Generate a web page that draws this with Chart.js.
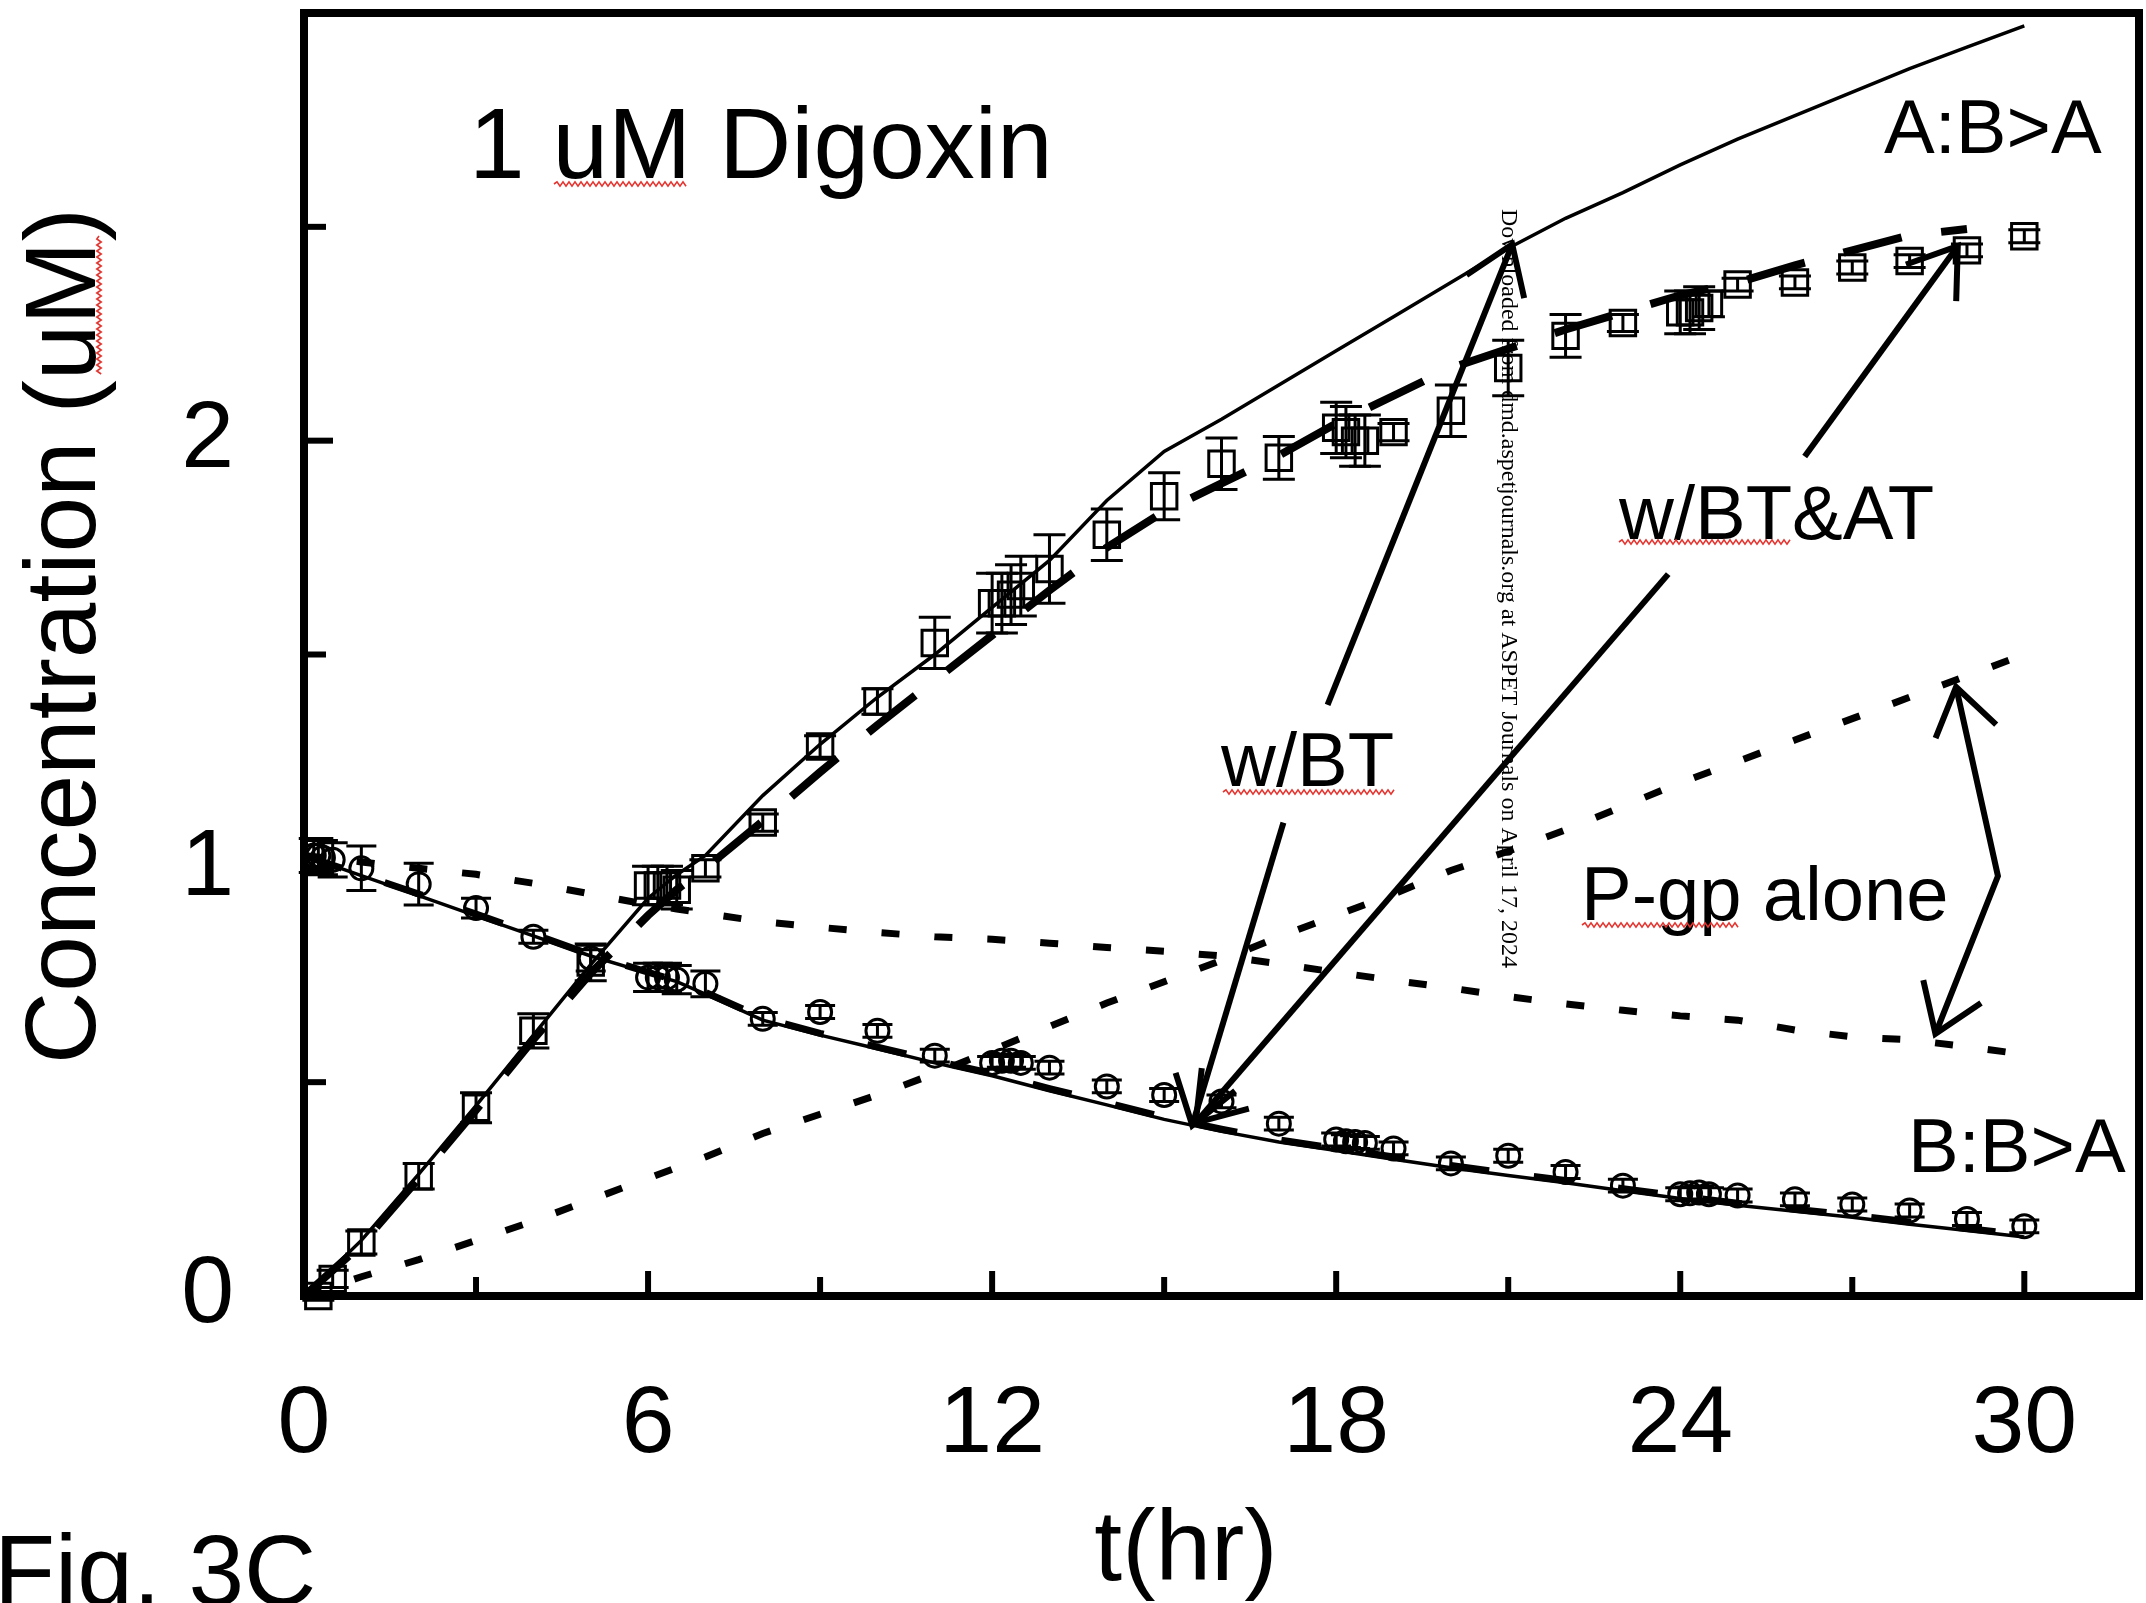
<!DOCTYPE html>
<html><head><meta charset="utf-8">
<script src="https://cdn.jsdelivr.net/npm/chart.js@4.4.1/dist/chart.umd.min.js"></script>
<style>html,body{margin:0;padding:0;background:#fff;overflow:hidden}#wrap{width:2146px;height:1603px;position:relative;background:#fff}</style>
</head><body><div id="wrap"><canvas id="c" width="2146" height="1603"></canvas></div>
<script>
// ---- data ----
const squareTimes = [0.25,0.5,1,2,3,4,5,6,6.17,6.33,6.5,7,8,9,10,11,12,12.17,12.33,12.5,13,14,15,16,17,18,18.17,18.33,18.5,19,20,21,22,23,24,24.17,24.33,24.5,25,26,27,28,29,30];
const squareConc  = [0.0,0.04,0.125,0.28,0.44,0.62,0.78,0.96,0.96,0.96,0.95,1.0,1.107,1.285,1.39,1.527,1.62,1.62,1.64,1.66,1.70,1.78,1.87,1.946,1.96,2.03,2.02,2.0,2.0,2.02,2.07,2.17,2.245,2.275,2.30,2.30,2.31,2.32,2.365,2.37,2.405,2.42,2.445,2.478];
const squareErr   = [0.01,0.02,0.027,0.03,0.035,0.04,0.043,0.045,0.045,0.045,0.045,0.02,0.02,0.025,0.03,0.06,0.07,0.07,0.07,0.07,0.08,0.06,0.055,0.06,0.05,0.06,0.06,0.06,0.06,0.02,0.06,0.065,0.05,0.02,0.05,0.05,0.05,0.03,0.015,0.015,0.015,0.015,0.015,0.015];

const circleTimes = [0.17,0.25,0.33,0.5,1,2,3,4,5,6,6.17,6.33,6.5,7,8,9,10,11,12,12.17,12.33,12.5,13,14,15,16,17,18,18.17,18.33,18.5,19,20,21,22,23,24,24.17,24.33,24.5,25,26,27,28,29,30];
const circleConc  = [1.03,1.03,1.025,1.02,1.0,0.963,0.907,0.84,0.79,0.745,0.745,0.745,0.74,0.73,0.648,0.664,0.62,0.562,0.545,0.55,0.55,0.545,0.534,0.49,0.47,0.455,0.403,0.366,0.362,0.36,0.358,0.345,0.31,0.328,0.29,0.258,0.238,0.24,0.242,0.238,0.235,0.226,0.214,0.2,0.18,0.163];
const circleErr   = [0.04,0.04,0.04,0.04,0.052,0.049,0.023,0.015,0.03,0.033,0.033,0.033,0.033,0.03,0.015,0.015,0.015,0.015,0.015,0.015,0.015,0.015,0.015,0.015,0.015,0.015,0.015,0.015,0.015,0.015,0.015,0.015,0.015,0.015,0.015,0.015,0.015,0.015,0.015,0.015,0.015,0.015,0.015,0.015,0.015,0.015];

const modelTimes = [0,1,2,3,4,5,6,6.5,7,8,9,10,11,12,13,14,15,16,17,18,19,20,21,22,23,24,25,26,27,28,29,30];
const apicalWithBT    = [0,0.13,0.285,0.445,0.61,0.775,0.93,0.985,1.03,1.17,1.29,1.40,1.50,1.61,1.72,1.86,1.975,2.05,2.13,2.21,2.29,2.37,2.45,2.52,2.58,2.645,2.705,2.76,2.815,2.87,2.92,2.97];
const apicalWithBTAT  = [0,0.12,0.275,0.435,0.6,0.755,0.89,0.95,1.0,1.11,1.225,1.335,1.44,1.545,1.65,1.75,1.835,1.90,1.965,2.04,2.105,2.17,2.215,2.26,2.30,2.34,2.37,2.41,2.445,2.48,2.495,null];
const basalWithBT     = [1.03,0.983,0.936,0.889,0.842,0.795,0.755,0.735,0.706,0.645,0.61,0.578,0.545,0.515,0.48,0.447,0.413,0.385,0.36,0.34,0.32,0.30,0.282,0.265,0.246,0.228,0.212,0.198,0.184,0.168,0.153,0.138];
const basalWithBTAT   = [1.03,0.985,0.94,0.893,0.846,0.798,0.757,0.737,0.71,0.65,0.614,0.582,0.55,0.52,0.485,0.452,0.418,0.39,0.365,0.345,0.325,0.305,0.287,0.27,0.251,0.233,0.217,0.203,0.189,0.173,0.158,0.143];
const apicalPgpAlone  = [0,0.045,0.085,0.13,0.175,0.225,0.275,0.30,0.325,0.38,0.425,0.47,0.52,0.575,0.63,0.685,0.735,0.785,0.84,0.89,0.94,0.995,1.04,1.09,1.145,1.2,1.25,1.3,1.35,1.4,1.45,1.5];
const basalPgpAlone   = [1.03,1.015,1.0,0.986,0.965,0.94,0.915,0.905,0.895,0.875,0.862,0.85,0.84,0.834,0.825,0.815,0.806,0.795,0.777,0.757,0.738,0.72,0.70,0.683,0.668,0.655,0.645,0.622,0.606,0.599,0.583,0.565];

const yTickValues = [0,0.5,1,1.5,2,2.5,3];
const yTickLabels = [0,1,2];
const xTickValues = [0,3,6,9,12,15,18,21,24,27,30];
const xTickLabels = [0,6,12,18,24,30];

// ---- build ----
const pts = (xs, ys) => xs.map((t,i)=>({x:t, y:ys[i]}));
const FONT = '"Liberation Sans", Arial, sans-serif';

function lineDs(ys, width, dash){
  return {data: pts(modelTimes, ys), showLine:true, pointRadius:0, borderColor:'#000',
          borderWidth:width, borderDash:dash||[], tension:0, fill:false, spanGaps:false, borderCapStyle:'butt'};
}

function arrowHead(ctx, tipX, tipY, fromX, fromY, len, ang){
  const a = Math.atan2(fromY-tipY, fromX-tipX);
  ctx.beginPath();
  ctx.moveTo(tipX + len*Math.cos(a+ang), tipY + len*Math.sin(a+ang));
  ctx.lineTo(tipX, tipY);
  ctx.lineTo(tipX + len*Math.cos(a-ang), tipY + len*Math.sin(a-ang));
  ctx.stroke();
}
function squiggleH(ctx, x1, x2, y){
  ctx.beginPath(); let up=true; ctx.moveTo(x1,y);
  for(let x=x1+3;x<=x2;x+=3){ ctx.lineTo(x, y + (up?-2.2:2.2)); up=!up; }
  ctx.stroke();
}
function squiggleV(ctx, x, y1, y2){
  ctx.beginPath(); let up=true; ctx.moveTo(x,y1);
  for(let y=y1+3;y<=y2;y+=3){ ctx.lineTo(x + (up?-2.2:2.2), y); up=!up; }
  ctx.stroke();
}

const overlay = {
  id:'overlay',
  afterDatasetsDraw(chart){
    const {ctx, chartArea:ca, scales:{x, y}} = chart;
    const px = v => x.getPixelForValue(v), py = v => y.getPixelForValue(v);
    ctx.save();
    ctx.strokeStyle='#000'; ctx.fillStyle='#000'; ctx.lineCap='butt';
    // error bars
    ctx.lineWidth = 3;
    const bars = (ts, cs, es, cap) => {
      for(let i=0;i<ts.length;i++){
        const X=px(ts[i]), Y1=py(cs[i]-es[i]), Y2=py(cs[i]+es[i]);
        ctx.beginPath();
        ctx.moveTo(X,Y1); ctx.lineTo(X,Y2);
        ctx.moveTo(X-cap,Y1); ctx.lineTo(X+cap,Y1);
        ctx.moveTo(X-cap,Y2); ctx.lineTo(X+cap,Y2);
        ctx.stroke();
      }
    };
    bars(squareTimes, squareConc, squareErr, 16);
    bars(circleTimes, circleConc, circleErr, 15);

    // frame
    ctx.lineWidth = 8;
    ctx.strokeRect(ca.left, ca.top, ca.right-ca.left, ca.bottom-ca.top);
    // inward ticks
    ctx.lineWidth = 6;
    y.ticks.forEach(t=>{ const v=t.value; if(v<=0||v>=3) return;
      const L = Number.isInteger(v)?29:22, Y=py(v);
      ctx.beginPath(); ctx.moveTo(ca.left,Y); ctx.lineTo(ca.left+L,Y); ctx.stroke(); });
    x.ticks.forEach(t=>{ const v=t.value; if(v<=0||v>30) return;
      const L = (v%6===0)?25:19, X=px(v);
      ctx.beginPath(); ctx.moveTo(X,ca.bottom); ctx.lineTo(X,ca.bottom-L); ctx.stroke(); });

    // arrows
    ctx.lineWidth = 6;
    const arrow = (t0,c0,t1,c1) => {
      const X0=px(t0),Y0=py(c0),X1=px(t1),Y1=py(c1);
      ctx.beginPath(); ctx.moveTo(X0,Y0); ctx.lineTo(X1,Y1); ctx.stroke();
      arrowHead(ctx,X1,Y1,X0,Y0,55,0.6);
    };
    arrow(17.85,1.382, 21.07,2.459);
    arrow(17.08,1.107, 15.49,0.399);
    arrow(23.79,1.688, 15.55,0.405);
    arrow(26.17,1.963, 28.84,2.455);
    // P-gp double arrow (bent)
    {
      const A=[px(28.81),py(1.424)], M=[px(29.54),py(0.982)], B=[px(28.45),py(0.613)];
      ctx.beginPath(); ctx.moveTo(A[0],A[1]); ctx.lineTo(M[0],M[1]); ctx.lineTo(B[0],B[1]); ctx.stroke();
      arrowHead(ctx,A[0],A[1],M[0],M[1],55,0.6);
      arrowHead(ctx,B[0],B[1],M[0],M[1],55,0.6);
    }

    // texts
    ctx.textAlign='left'; ctx.textBaseline='alphabetic';
    ctx.font = '100px '+FONT;
    ctx.fillText('1 uM Digoxin', 469, 178);
    ctx.font = '76px '+FONT;
    ctx.fillText('A:B>A', 1884, 153);
    ctx.fillText('B:B>A', 1908, 1172);
    ctx.fillText('w/BT', 1221, 786);
    ctx.fillText('w/BT&AT', 1619, 539);
    ctx.fillText('P-gp alone', 1581, 920);

    // axis titles
    ctx.font = '100px '+FONT;
    ctx.textAlign='center';
    ctx.fillText('t(hr)', 1186, 1580);
    ctx.save(); ctx.translate(95, 636); ctx.rotate(-Math.PI/2);
    ctx.fillText('Concentration (uM)', 0, 0); ctx.restore();
    ctx.textAlign='left';
    ctx.fillText('Fig. 3C', -6, 1605);

    // spell-check squiggles
    ctx.strokeStyle='#e3342f'; ctx.lineWidth=1.6;
    squiggleH(ctx, 554, 688, 184);
    squiggleH(ctx, 1223, 1396, 792);
    squiggleH(ctx, 1619, 1792, 542);
    squiggleH(ctx, 1582, 1739, 925);
    squiggleV(ctx, 99, 236, 376);

    // watermark (vertical serif text)
    ctx.fillStyle='#000';
    const wm = 'Downloaded from dmd.aspetjournals.org at ASPET Journals on April 17, 2024';
    ctx.font = '24px "Liberation Serif", "Times New Roman", serif';
    const w = ctx.measureText(wm).width;
    const fs = 24*759/w;
    ctx.font = fs.toFixed(2)+'px "Liberation Serif", "Times New Roman", serif';
    ctx.save(); ctx.translate(1502, 209); ctx.rotate(Math.PI/2);
    ctx.textAlign='left'; ctx.textBaseline='alphabetic';
    ctx.fillText(wm, 0, 0); ctx.restore();

    ctx.restore();
  }
};

new Chart(document.getElementById('c'), {
  type:'scatter',
  data:{datasets:[
    {data: pts(squareTimes, squareConc), pointStyle:'rect', pointRadius:18, pointBorderWidth:3, borderWidth:3,
     borderColor:'#000', pointBorderColor:'#000', backgroundColor:'rgba(0,0,0,0)', pointBackgroundColor:'rgba(0,0,0,0)', showLine:false, clip:false},
    {data: pts(circleTimes, circleConc), pointStyle:'circle', pointRadius:11.5, pointBorderWidth:3, borderWidth:3,
     borderColor:'#000', pointBorderColor:'#000', backgroundColor:'rgba(0,0,0,0)', pointBackgroundColor:'rgba(0,0,0,0)', showLine:false, clip:false},
    lineDs(apicalWithBT, 3.5),
    lineDs(apicalWithBTAT, 8, [60,40]),
    lineDs(basalWithBT, 3.5),
    lineDs(basalWithBTAT, 7, [40,45]),
    lineDs(apicalPgpAlone, 7, [18,35]),
    lineDs(basalPgpAlone, 7, [18,35])
  ]},
  options:{
    responsive:false, animation:false, devicePixelRatio:1,
    layout:{autoPadding:false, padding:{left:0, top:13, right:7, bottom:0}},
    plugins:{legend:{display:false}, tooltip:{enabled:false}},
    scales:{
      x:{type:'linear', min:0, max:32,
         grid:{display:false, drawTicks:false}, border:{display:false},
         afterBuildTicks:s=>{ s.ticks = xTickValues.map(v=>({value:v})); },
         afterFit:s=>{ s.height = 307; s.paddingLeft = 0; s.paddingRight = 0; },
         ticks:{autoSkip:false, maxRotation:0, minRotation:0, padding:73, color:'#000',
                font:{family:FONT, size:95},
                callback:v=> xTickLabels.includes(v) ? String(v) : ''}},
      y:{type:'linear', min:0, max:3,
         grid:{display:false, drawTicks:false}, border:{display:false},
         afterBuildTicks:s=>{ s.ticks = yTickValues.map(v=>({value:v})); },
         afterFit:s=>{ s.width = 304; s.paddingTop = 0; s.paddingBottom = 0; },
         ticks:{autoSkip:false, padding:70, color:'#000',
                font:{family:FONT, size:95},
                callback:v=> yTickLabels.includes(v) ? String(v) : ''}}
    }
  },
  plugins:[overlay]
});
</script></body></html>
